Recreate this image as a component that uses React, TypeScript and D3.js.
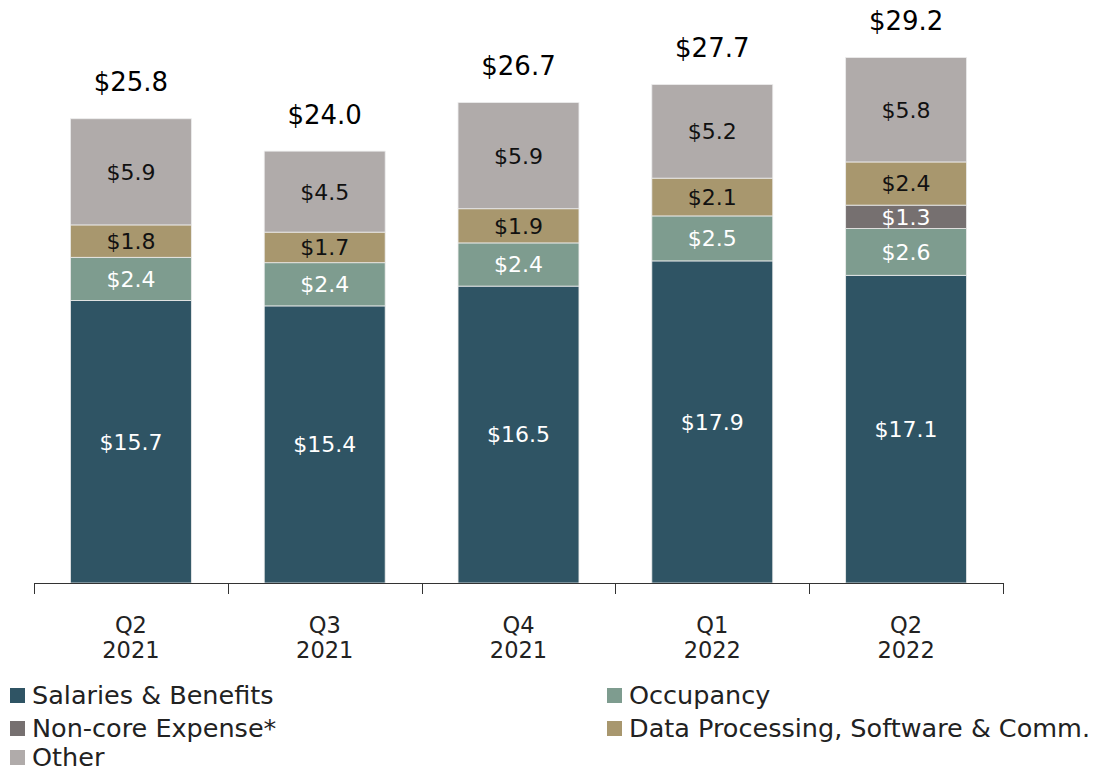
import React from "react";
import * as d3 from "d3";

const quarters = ["Q2|2021", "Q3|2021", "Q4|2021", "Q1|2022", "Q2|2022"];
const salaries = [15.7, 15.4, 16.5, 17.9, 17.1];
const occupancy = [2.4, 2.4, 2.4, 2.5, 2.6];
const noncore = [0, 0, 0, 0, 1.3];
const dataProc = [1.8, 1.7, 1.9, 2.1, 2.4];
const other = [5.9, 4.5, 5.9, 5.2, 5.8];
const totals = ["$25.8", "$24.0", "$26.7", "$27.7", "$29.2"];

const series = [
  { key: "sal", name: "Salaries & Benefits", values: salaries, color: "#2f5464", text: "#fff" },
  { key: "occ", name: "Occupancy", values: occupancy, color: "#7e9c8f", text: "#fff" },
  { key: "nc", name: "Non-core Expense*", values: noncore, color: "#767070", text: "#fff" },
  { key: "dp", name: "Data Processing, Software & Comm.", values: dataProc, color: "#a8976e", text: "#111" },
  { key: "oth", name: "Other", values: other, color: "#b0abaa", text: "#111" },
];

const FONT = "'DejaVu Sans', sans-serif";

export default function App() {
  const width = 1111;
  const height = 773;
  const x = d3.scaleBand().domain(quarters).range([34, 1003]).paddingInner(0.376).paddingOuter(0.188);
  const y = d3.scaleLinear().domain([0, 32.4]).range([583, 0]);

  const rows = quarters.map((q, i) => {
    const r: any = { q };
    series.forEach((s) => (r[s.key] = s.values[i]));
    return r;
  });
  const stacked = d3.stack().keys(series.map((s) => s.key))(rows);

  // tick positions sit between bands
  const edges = quarters.map((q) => (x(q) as number) - (x.step() * x.paddingInner()) / 2);
  edges.push(1003);

  const legend = [
    { s: series[0], lx: 10, ly: 695 },
    { s: series[2], lx: 10, ly: 728 },
    { s: series[4], lx: 10, ly: 757 },
    { s: series[1], lx: 607, ly: 695 },
    { s: series[3], lx: 607, ly: 728 },
  ];

  return (
    <svg width={width} height={height} style={{ position: "absolute", left: 0, top: 0, background: "#fff" }} fontFamily={FONT}>
      {stacked.map((layer, li) => (
        <g key={layer.key}>
          {layer.map((d, i) => {
            const v = d[1] - d[0];
            if (v <= 0) return null;
            const x0 = x(quarters[i]) as number;
            const yTop = y(d[1]);
            const yBot = y(d[0]);
            return (
              <g key={i}>
                <rect x={x0} y={yTop} width={x.bandwidth()} height={yBot - yTop} fill={series[li].color} stroke="#ececec" strokeWidth={0.8} />
                <text
                  x={x0 + x.bandwidth() / 2}
                  y={(yTop + yBot) / 2}
                  dy="0.36em"
                  textAnchor="middle"
                  fontSize={22}
                  fill={series[li].text}
                >
                  {"$" + v.toFixed(1)}
                </text>
              </g>
            );
          })}
        </g>
      ))}
      {stacked[stacked.length - 1].map((d, i) => (
        <text
          key={i}
          x={(x(quarters[i]) as number) + x.bandwidth() / 2}
          y={y(d[1]) - 37}
          dy="0.36em"
          textAnchor="middle"
          fontSize={26}
          fill="#000"
        >
          {totals[i]}
        </text>
      ))}
      <line x1={34} x2={1003} y1={583.5} y2={583.5} stroke="#333" strokeWidth={1} />
      {edges.map((e, i) => (
        <line key={i} x1={Math.round(e) + 0.5} x2={Math.round(e) + 0.5} y1={583} y2={594} stroke="#333" strokeWidth={1} />
      ))}
      {quarters.map((q) => {
        const [a, b] = q.split("|");
        const cx = (x(q) as number) + x.bandwidth() / 2;
        return (
          <text key={q} x={cx} textAnchor="middle" fontSize={22.5} fill="#222">
            <tspan x={cx} y={633}>{a}</tspan>
            <tspan x={cx} y={658}>{b}</tspan>
          </text>
        );
      })}
      {legend.map(({ s, lx, ly }) => (
        <g key={s.key}>
          <rect x={lx} y={ly - 7} width={15} height={15} fill={s.color} />
          <text x={lx + 22} y={ly} dy="0.36em" fontSize={25.5} fill="#222">
            {s.name}
          </text>
        </g>
      ))}
    </svg>
  );
}
